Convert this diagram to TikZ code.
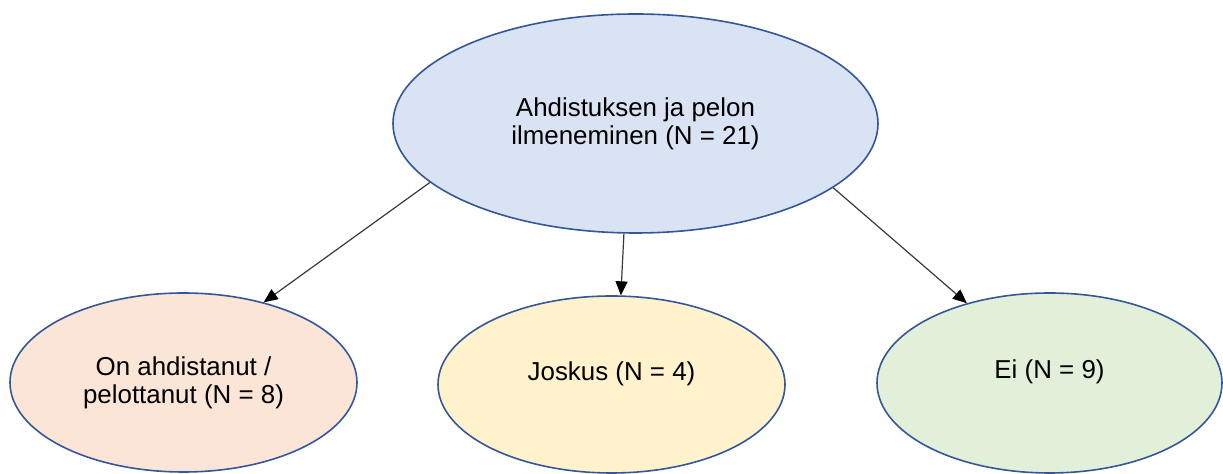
\documentclass[tikz,border=0pt]{standalone}
\usepackage{fontspec}
\setmainfont{Liberation Sans}
\usetikzlibrary{shapes.geometric,arrows.meta}

\definecolor{outline}{HTML}{34579A}
\definecolor{fillblue}{HTML}{DAE3F3}
\definecolor{fillorange}{HTML}{FBE5D6}
\definecolor{fillyellow}{HTML}{FFF2CC}
\definecolor{fillgreen}{HTML}{E2F0D9}
\definecolor{linkgray}{HTML}{3A3A3A}

\tikzset{
  oval/.style={ellipse, draw=outline, line width=0.8pt, inner sep=0pt},
  caption/.style={align=center, font=\fontsize{12.95}{14}\selectfont, text=black},
  link/.style={draw=linkgray, line width=0.6pt,
    -{Triangle[length=7pt,width=6pt,color=black]}}
}

\begin{document}
\begin{tikzpicture}[x=0.5pt,y=-0.5pt]
  \useasboundingbox (0,0) rectangle (1223,474);

  % root
  \node[oval, fill=fillblue, minimum width=242.5pt, minimum height=109.5pt]
    (root) at (635.5,123.5) {};
  \node[caption] (roottext) at (root.center)
    {Ahdistuksen ja pelon\\ilmeneminen (N = 21)};

  % answers
  \node[oval, fill=fillorange, minimum width=173.5pt, minimum height=89.5pt]
    (yes) at (183.5,382.5) {};
  \node[caption] (yestext) at (yes.center)
    {On ahdistanut /\\pelottanut (N = 8)};

  \node[oval, fill=fillyellow, minimum width=173.5pt, minimum height=88.5pt]
    (some) at (611.5,384.5) {};
  \node[caption, yshift=5.5pt] (sometext) at (some.center) {Joskus (N = 4)};

  \node[oval, fill=fillgreen, minimum width=172.5pt, minimum height=90pt]
    (no) at (1049.5,383) {};
  \node[caption, yshift=5.5pt] (notext) at (no.center) {Ei (N = 9)};

  % connectors
  \draw[link] (root.196.8) -- (yes.45.9);
  \draw[link] (root.264.5) -- (some.84.5);
  \draw[link] (root.342.4) -- (no.136.6);
\end{tikzpicture}
\end{document}
